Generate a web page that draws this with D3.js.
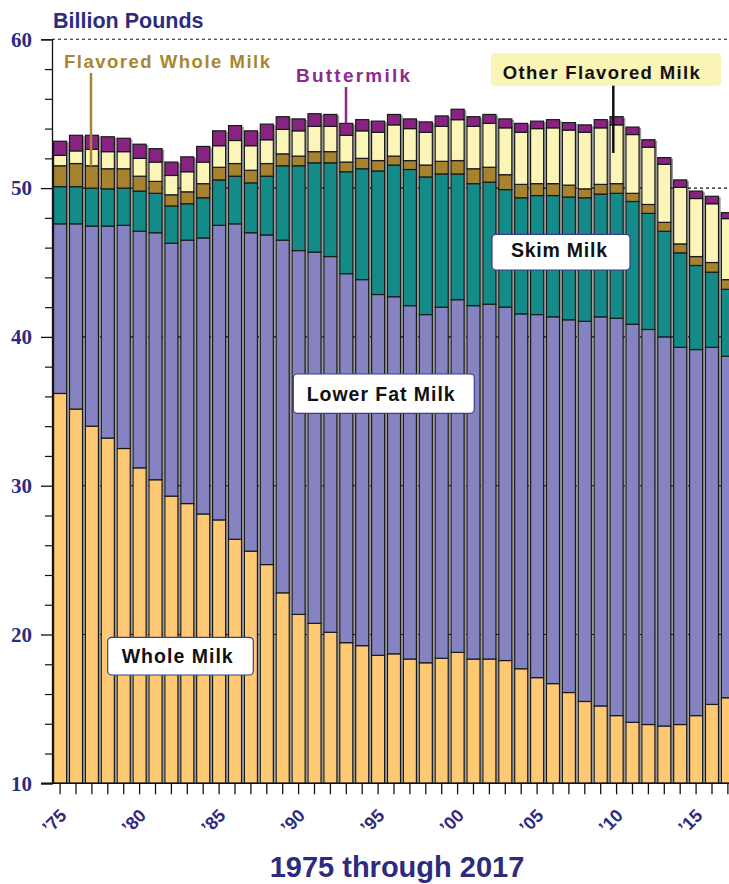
<!DOCTYPE html>
<html><head><meta charset="utf-8">
<script src="https://cdn.jsdelivr.net/npm/d3@7"></script>
<style>body{margin:0;background:#fff}svg{display:block}</style>
</head><body><svg id="c" width="729" height="884"></svg>
<script>
const years = [1975,1976,1977,1978,1979,1980,1981,1982,1983,1984,1985,1986,1987,1988,1989,1990,1991,1992,1993,1994,1995,1996,1997,1998,1999,2000,2001,2002,2003,2004,2005,2006,2007,2008,2009,2010,2011,2012,2013,2014,2015,2016,2017];
const wholeMilk = [36.2,35.15,34.0,33.2,32.5,31.2,30.4,29.3,28.8,28.1,27.7,26.4,25.6,24.7,22.8,21.35,20.75,20.15,19.45,19.25,18.6,18.7,18.35,18.1,18.4,18.8,18.35,18.35,18.25,17.7,17.1,16.7,16.1,15.5,15.2,14.55,14.1,13.95,13.85,13.95,14.55,15.3,15.75];
const lowerFatMilk = [11.4,12.45,13.45,14.25,15.0,15.9,16.6,17.0,17.7,18.55,19.8,21.2,21.4,22.15,23.7,24.45,24.95,25.25,24.8,24.6,24.25,24.0,23.75,23.4,23.6,23.7,23.75,23.85,23.75,23.85,24.4,24.65,25.05,25.55,26.15,26.7,26.75,26.55,26.15,25.35,24.6,24.0,22.95];
const skimMilk = [2.5,2.5,2.55,2.5,2.5,2.7,2.65,2.5,2.45,2.7,3.05,3.2,3.35,3.95,5.0,5.7,6.0,6.3,6.85,7.45,8.3,8.85,9.15,9.25,8.95,8.45,8.2,8.2,7.9,7.8,8.0,8.15,8.25,8.3,8.25,8.4,8.25,7.8,7.1,6.35,5.65,5.05,4.5];
const flavoredWholeMilk = [1.4,1.55,1.5,1.35,1.3,1.0,0.8,0.75,0.8,0.95,0.85,0.85,0.85,0.85,0.8,0.65,0.75,0.75,0.65,0.7,0.7,0.6,0.6,0.8,0.85,0.9,1.0,1.0,1.0,0.9,0.8,0.8,0.8,0.6,0.65,0.65,0.55,0.6,0.6,0.6,0.6,0.65,0.65];
const otherFlavoredMilk = [0.7,0.85,1.1,1.15,1.15,1.2,1.3,1.3,1.35,1.45,1.45,1.55,1.65,1.6,1.65,1.7,1.7,1.7,1.8,1.85,1.9,2.1,2.15,2.2,2.35,2.75,2.85,2.95,3.15,3.5,3.7,3.75,3.7,3.8,3.8,3.95,3.95,3.85,3.9,3.8,3.9,3.95,4.1];
const buttermilk = [0.95,1.05,0.95,1.0,0.9,0.95,0.9,0.9,1.0,1.05,1.0,1.0,1.0,1.05,0.85,0.8,0.85,0.8,0.8,0.75,0.75,0.7,0.65,0.7,0.7,0.7,0.65,0.6,0.6,0.6,0.5,0.55,0.5,0.5,0.55,0.55,0.5,0.5,0.45,0.5,0.5,0.5,0.4];

const seriesNames = ["Whole Milk","Lower Fat Milk","Skim Milk","Flavored Whole Milk","Other Flavored Milk","Buttermilk"];
const seriesValues = [wholeMilk, lowerFatMilk, skimMilk, flavoredWholeMilk, otherFlavoredMilk, buttermilk];
const seriesColors = ["#FFC873","#8583C1","#148B88","#A7822F","#FBF5B8","#882381"];
const yTicks = [10,20,30,40,50,60];
const yMinorTicks = [12,14,16,18,22,24,26,28,32,34,36,38,42,44,46,48,52,54,56,58];
const gridValues = [20,30,40,50,60];
const xTickYears = [1975,1980,1985,1990,1995,2000,2005,2010,2015];
const xTickLabels = ["’75","’80","’85","’90","’95","’00","’05","’10","’15"];

const navy = "#2E2B7F";
const svg = d3.select("#c");

const rows = years.map((yr, i) => {
  const r = {year: yr};
  seriesNames.forEach((n, k) => r[n] = seriesValues[k][i]);
  return r;
});
const stacked = d3.stack().keys(seriesNames)(rows);

const x = d3.scaleBand().domain(years).range([52, 736]).paddingInner(0.18).paddingOuter(0.1);
const y = d3.scaleLinear().domain([10, 60]).range([783.3, 39.3]);
const bw = x.bandwidth();

const plot = svg.append("g");
plot.append("clipPath").attr("id","clip").append("rect").attr("x",52).attr("y",0).attr("width",677).attr("height",783.3);

// bar shadows
const totals = rows.map(r => d3.sum(seriesNames, n => r[n]));
plot.append("g").attr("clip-path","url(#clip)").selectAll("rect").data(years).join("rect")
  .attr("x", d => x(d) + 2.2)
  .attr("y", (d, i) => y(totals[i]) + 1)
  .attr("width", bw)
  .attr("height", (d, i) => y(10) - y(totals[i]) - 1)
  .attr("fill", "#9a9a9a");

// gridlines
plot.append("g").selectAll("line").data(gridValues).join("line")
  .attr("x1", 52).attr("x2", 729)
  .attr("y1", d => y(d)).attr("y2", d => y(d))
  .attr("stroke", "#111").attr("stroke-width", 1.1)
  .attr("stroke-dasharray", "3,3");

// bars
const layers = plot.append("g").attr("clip-path","url(#clip)");
stacked.forEach((layer, k) => {
  layers.append("g").selectAll("rect").data(layer).join("rect")
    .attr("x", d => x(d.data.year))
    .attr("y", d => y(d[1]))
    .attr("width", bw)
    .attr("height", d => Math.max(0, y(Math.max(d[0], 10)) - y(d[1])))
    .attr("fill", seriesColors[k])
    .attr("stroke", "#1a1a1a")
    .attr("stroke-width", 1.2);
});

// y axis
const yAxis = svg.append("g").attr("transform", "translate(52,0)")
  .call(d3.axisLeft(y).tickValues(yTicks).tickSize(11).tickPadding(9).tickFormat(d3.format("d")));
yAxis.select(".domain").attr("stroke", "#111").attr("stroke-width", 1.3);
yAxis.selectAll(".tick line").attr("stroke", "#111").attr("stroke-width", 1.3);
yAxis.selectAll(".tick text").attr("fill", navy)
  .style("font-family", "'Liberation Serif','Times New Roman',serif")
  .style("font-weight", "bold").style("font-size", "21px");
svg.append("g").attr("transform", "translate(52,0)")
  .call(d3.axisLeft(y).tickValues(yMinorTicks).tickSize(7).tickFormat(""))
  .call(g => g.select(".domain").remove())
  .selectAll(".tick line").attr("stroke", "#111").attr("stroke-width", 1.2);

// x axis
svg.append("line").attr("x1", 41).attr("x2", 729).attr("y1", y(10)).attr("y2", y(10))
  .attr("stroke", "#111").attr("stroke-width", 1.4);
const xAxis = svg.append("g").attr("transform", `translate(0,${y(10)})`)
  .call(d3.axisBottom(x).tickSize(11).tickFormat(""));
xAxis.select(".domain").remove();
xAxis.selectAll(".tick line").attr("stroke", "#111").attr("stroke-width", 1.3);

svg.append("g").selectAll("text").data(xTickYears).join("text")
  .attr("transform", d => `translate(${x(d) + bw / 2 + 3},${y(10) + 29}) rotate(-45)`)
  .attr("text-anchor", "end")
  .attr("dy", "0.35em")
  .attr("fill", navy)
  .style("font-family", "'Liberation Sans',Arial,sans-serif")
  .style("font-weight", "bold").style("font-size", "18px")
  .text((d, i) => xTickLabels[i]);

// titles
svg.append("text").attr("x", 53).attr("y", 28.3).attr("fill", navy)
  .style("font-family", "'Liberation Sans',Arial,sans-serif").style("font-weight", "bold")
  .style("font-size", "21.5px").text("Billion Pounds");
svg.append("text").attr("x", 397).attr("y", 877).attr("text-anchor", "middle").attr("fill", navy)
  .style("font-family", "'Liberation Sans',Arial,sans-serif").style("font-weight", "bold")
  .style("font-size", "29px").text("1975 through 2017");

// annotations
const font = "'Liberation Sans',Arial,sans-serif";
function box(x0, y0, w, h, fill, stroke) {
  svg.append("rect").attr("x", x0).attr("y", y0).attr("width", w).attr("height", h)
    .attr("rx", 4).attr("fill", fill).attr("stroke", stroke || "none").attr("stroke-width", 1.2);
}
function label(tx, ty, txt, size, color, len) {
  const t = svg.append("text").attr("x", tx).attr("y", ty).attr("fill", color)
    .style("font-family", font).style("font-weight", "bold").style("font-size", size + "px").text(txt);
  if (len) t.attr("textLength", len).attr("lengthAdjust", "spacing");
}
function leader(x0, y0, y1, color) {
  svg.append("line").attr("x1", x0).attr("x2", x0).attr("y1", y0).attr("y2", y1)
    .attr("stroke", color).attr("stroke-width", 2.5);
}

// Flavored Whole Milk
label(64, 68, "Flavored Whole Milk", 18.5, "#A8862F", 206);
leader(91, 73, 166, "#A8862F");
// Buttermilk
label(296, 82, "Buttermilk", 19, "#8E2A8B", 114);
leader(346, 87, 123, "#8E2A8B");
// Other Flavored Milk
box(491, 53.3, 230, 32.4, "#FAF4B6");
label(502.7, 78.5, "Other Flavored Milk", 18.5, "#111", 197);
leader(613.3, 85.7, 153, "#111");
// Skim Milk
box(492, 234.3, 138, 35.7, "#fff", "#3B3B8E");
label(511, 257.3, "Skim Milk", 19.5, "#111", 96);
// Lower Fat Milk
box(293.3, 374, 181, 39.3, "#fff", "#3B3B8E");
label(306.7, 400.7, "Lower Fat Milk", 19.5, "#111", 148);
// Whole Milk
box(107.7, 637.3, 145.6, 37.7, "#fff", "#3B3B8E");
label(121.7, 662.7, "Whole Milk", 19.5, "#111", 111);
</script>
</body></html>
